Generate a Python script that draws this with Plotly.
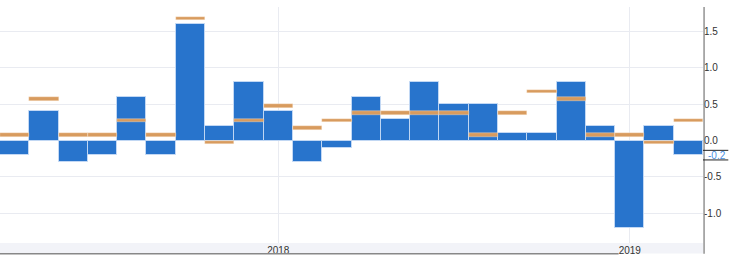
import plotly.graph_objects as go

months = ["2017-04", "2017-05", "2017-06", "2017-07", "2017-08", "2017-09",
          "2017-10", "2017-11", "2017-12", "2018-01", "2018-02", "2018-03",
          "2018-04", "2018-05", "2018-06", "2018-07", "2018-08", "2018-09",
          "2018-10", "2018-11", "2018-12", "2019-01", "2019-02", "2019-03"]
actual = [-0.2, 0.4, -0.3, -0.2, 0.6, -0.2, 1.6, 0.2, 0.8, 0.4, -0.3, -0.1,
          0.6, 0.3, 0.8, 0.5, 0.5, 0.1, 0.1, 0.8, 0.2, -1.2, 0.2, -0.2]
forecast = [0.1, 0.6, 0.1, 0.1, 0.3, 0.1, 1.7, 0.0, 0.3, 0.5, 0.2, 0.3,
            0.4, 0.4, 0.4, 0.4, 0.1, 0.4, 0.7, 0.6, 0.1, 0.1, 0.0, 0.3]
tick_vals = ["2018-01", "2019-01"]
tick_text = ["2018", "2019"]
y_ticks = [-1.0, -0.5, 0.0, 0.5, 1.0, 1.5]

BLUE = "#2874cc"
ORANGE = "#d89b5e"
MARK_H = 0.05  # thickness of the forecast marker in data units

fig = go.Figure()
fig.add_trace(go.Bar(
    x=months, y=actual, marker=dict(color=BLUE, line=dict(color="rgba(200,220,245,0.9)", width=1)),
    width=1.0, showlegend=False, hoverinfo="x+y"))
fig.add_trace(go.Bar(
    x=months, y=[-MARK_H] * len(forecast), base=forecast,
    marker=dict(color=ORANGE, line=dict(color="rgba(255,240,225,0.7)", width=0.5)),
    width=1.0, showlegend=False, hoverinfo="x"))

last = actual[-1]
shapes = [
    # bottom band for x labels
    dict(type="rect", xref="paper", yref="paper", x0=0, x1=1, y0=-0.0, y1=-0.044,
         fillcolor="#f2f3f8", line=dict(width=0), layer="below"),
    # navigator line
    dict(type="line", xref="paper", yref="paper", x0=0, x1=0.88, y0=-0.046, y1=-0.046,
         line=dict(color="#888888", width=1.5)),
    # right axis line
    dict(type="line", xref="paper", yref="paper", x0=1.0015, x1=1.0015, y0=-0.046, y1=1,
         line=dict(color="#777777", width=1.2)),
    # box around last value
    dict(type="line", xref="paper", yref="y", x0=1.0, x1=1.036, y0=last + 0.066, y1=last + 0.066,
         line=dict(color="#222222", width=1)),
    dict(type="line", xref="paper", yref="y", x0=1.0, x1=1.036, y0=last - 0.066, y1=last - 0.066,
         line=dict(color="#222222", width=1)),
]

fig.add_annotation(xref="paper", yref="y", x=1.0, y=last, text=f"{last:.1f}",
                   showarrow=False, xanchor="left", xshift=3,
                   font=dict(family="Liberation Sans, Arial", size=10, color="#4a90e2"))

fig.update_layout(
    width=730, height=263,
    margin=dict(l=0, r=27, t=7, b=20),
    paper_bgcolor="white", plot_bgcolor="white",
    barmode="overlay", bargap=0,
    shapes=shapes,
    font=dict(family="Liberation Sans, Arial", size=10, color="#333333"),
    xaxis=dict(type="category", categoryorder="array", categoryarray=months,
               tickvals=tick_vals, ticktext=tick_text, showgrid=True,
               gridcolor="#e9ebf1", gridwidth=1, ticks="", ticklen=0,
               showline=False, zeroline=False, range=[-0.5, len(months) - 0.5],
               tickfont=dict(size=10, color="#333333")),
    yaxis=dict(side="right", range=[-1.407, 1.835], tickvals=y_ticks,
               ticktext=[f"{v:.1f}" for v in y_ticks], showgrid=True,
               gridcolor="#e9ebf1", gridwidth=1, zeroline=False, ticks="",
               tickfont=dict(size=10, color="#333333"), showline=False),
)

fig.write_html("out.html")
